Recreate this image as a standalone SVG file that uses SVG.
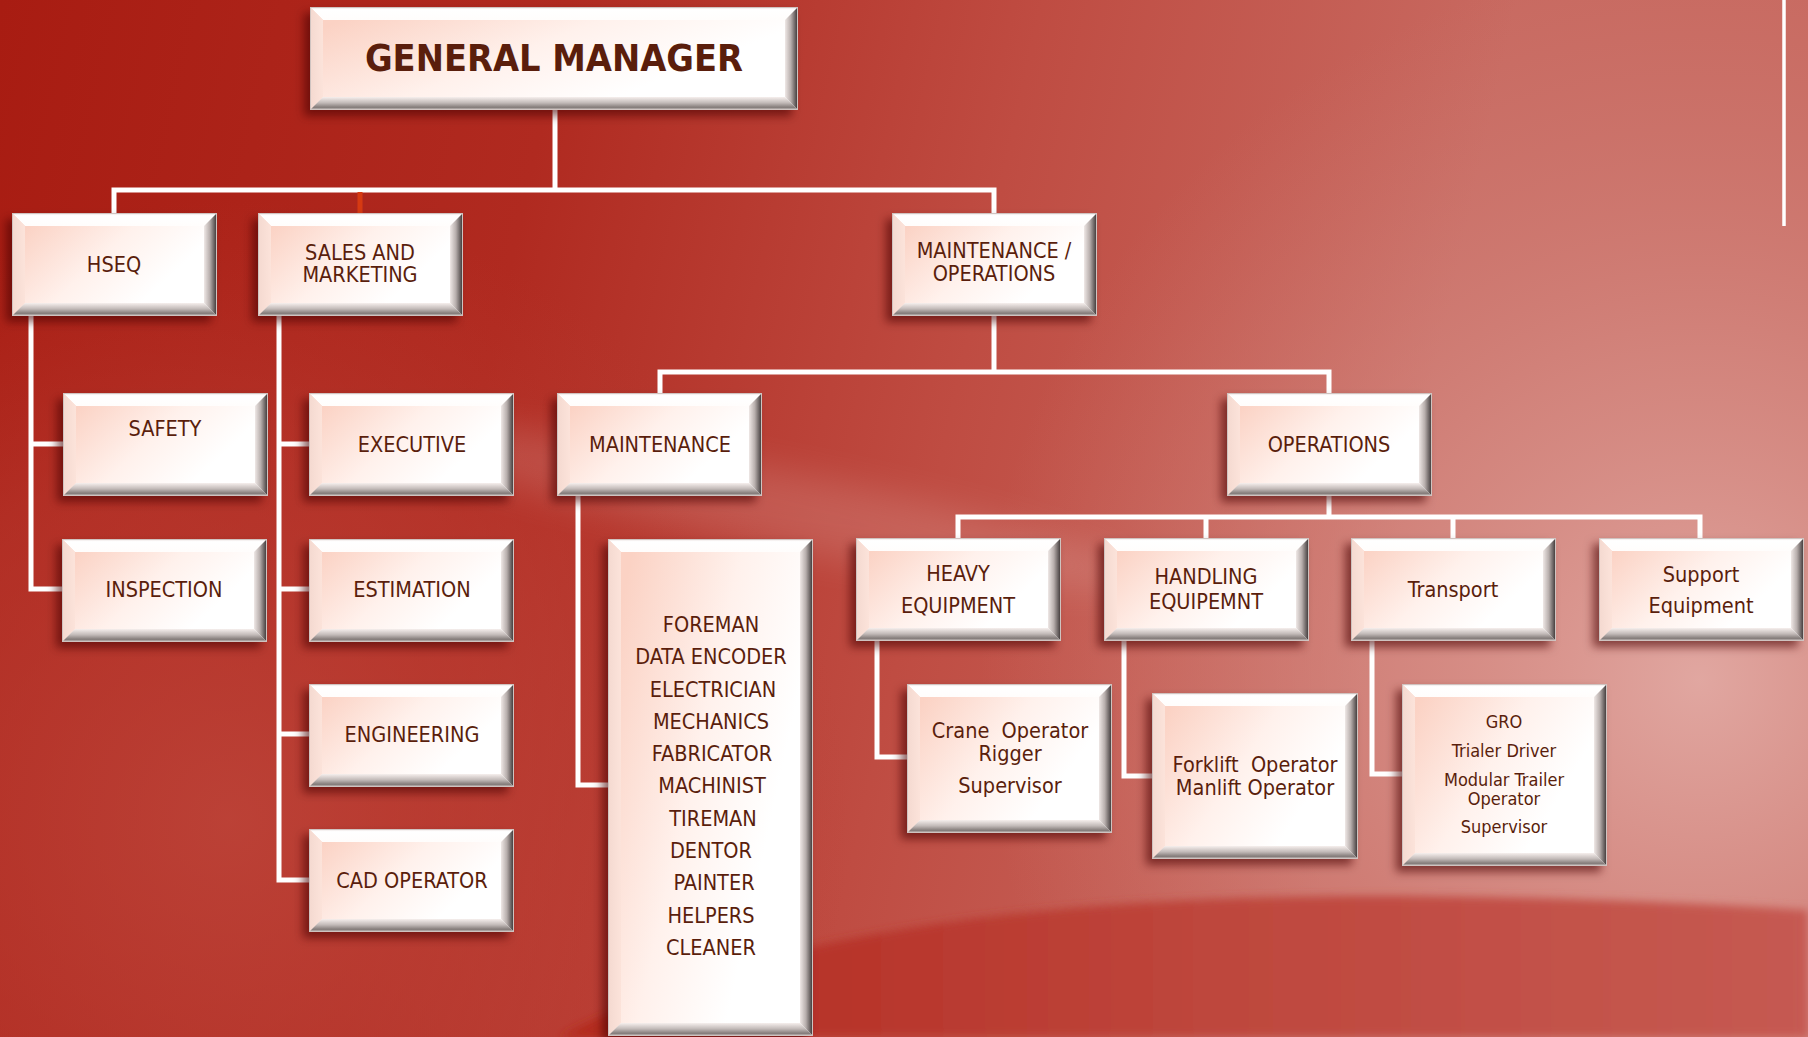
<svg xmlns="http://www.w3.org/2000/svg" xmlns:xlink="http://www.w3.org/1999/xlink" width="1808" height="1037" viewBox="0 0 1808 1037">
<defs>
<style>
.lbl{font-family:'DejaVu Sans Condensed','DejaVu Sans',sans-serif;font-stretch:condensed;font-size:21.5px;fill:#5A1E0C;text-anchor:middle}
.sm{font-size:18px}
.pre{white-space:pre}
.con{fill:none;stroke:#FFFFFF;stroke-width:5;stroke-linejoin:miter;stroke-linecap:butt}
.face{fill:url(#gFace)}
.bt{fill:url(#gTop)}
.bl{fill:url(#gLeft)}
.br{fill:url(#gRight)}
.bb{fill:url(#gBot)}
.edge{fill:none;stroke:#CFC3C0;stroke-width:1}
</style>
<linearGradient id="bgBase" gradientUnits="userSpaceOnUse" x1="0" y1="0" x2="1808" y2="400">
<stop offset="0" stop-color="#A81C12"/>
<stop offset="0.3" stop-color="#B02A20"/>
<stop offset="0.55" stop-color="#BF4C42"/>
<stop offset="0.8" stop-color="#C86A61"/>
<stop offset="1" stop-color="#C86A61"/>
</linearGradient>
<radialGradient id="pink" gradientUnits="userSpaceOnUse" cx="1700" cy="680" r="720">
<stop offset="0" stop-color="#E2AAA4" stop-opacity="0.95"/>
<stop offset="0.45" stop-color="#D9958E" stop-opacity="0.6"/>
<stop offset="1" stop-color="#D08078" stop-opacity="0"/>
</radialGradient>
<radialGradient id="lowLeft" gradientUnits="userSpaceOnUse" cx="230" cy="820" r="620">
<stop offset="0" stop-color="#C04A3F" stop-opacity="0.75"/>
<stop offset="0.6" stop-color="#BC4137" stop-opacity="0.45"/>
<stop offset="1" stop-color="#B83A30" stop-opacity="0"/>
</radialGradient>
<linearGradient id="lowDark" gradientUnits="userSpaceOnUse" x1="600" y1="0" x2="1808" y2="0">
<stop offset="0" stop-color="#B3291F"/>
<stop offset="0.5" stop-color="#BE463C"/>
<stop offset="1" stop-color="#C65A52"/>
</linearGradient>
<filter id="blur" x="-30%" y="-100%" width="160%" height="300%"><feGaussianBlur stdDeviation="18"/></filter>
<filter id="soft" x="-10%" y="-10%" width="120%" height="120%"><feGaussianBlur stdDeviation="4"/></filter>
<filter id="sh" x="-15%" y="-20%" width="130%" height="145%">
<feDropShadow dx="-6" dy="6" stdDeviation="5" flood-color="#4A0602" flood-opacity="0.6"/>
</filter>
<linearGradient id="gFace" x1="0" y1="0.25" x2="0.75" y2="0.65">
<stop offset="0" stop-color="#FBD2C4"/>
<stop offset="0.55" stop-color="#FFF1EC"/>
<stop offset="1" stop-color="#FFFFFF"/>
</linearGradient>
<linearGradient id="gTop" x1="0" y1="0" x2="0" y2="1">
<stop offset="0" stop-color="#E9E1DF"/>
<stop offset="0.2" stop-color="#FFFFFF"/>
<stop offset="1" stop-color="#FFFDFC"/>
</linearGradient>
<linearGradient id="gLeft" x1="0" y1="0" x2="1" y2="0">
<stop offset="0" stop-color="#F4D9D0"/>
<stop offset="1" stop-color="#FCE3DA"/>
</linearGradient>
<linearGradient id="gRight" x1="0" y1="0" x2="1" y2="0">
<stop offset="0" stop-color="#EFE8E6"/>
<stop offset="0.45" stop-color="#B7AEAC"/>
<stop offset="1" stop-color="#363030"/>
</linearGradient>
<linearGradient id="gBot" x1="0" y1="0" x2="0" y2="1">
<stop offset="0" stop-color="#F6EFED"/>
<stop offset="0.45" stop-color="#C2BAB8"/>
<stop offset="0.8" stop-color="#837B79"/>
<stop offset="1" stop-color="#D9D1CF"/>
</linearGradient>
<g id="box">
<rect class="face" x="0" y="0" width="205" height="103"/>
<polygon class="bt" points="0,0 205,0 192,13 13,13"/>
<polygon class="bl" points="0,0 13,13 13,90 0,103"/>
<polygon class="br" points="205,0 205,103 192,90 192,13"/>
<polygon class="bb" points="0,103 205,103 192,90 13,90"/>
<rect class="edge" x="0.5" y="0.5" width="204" height="102"/>
</g>
</defs>

<g id="background">
<rect x="0" y="0" width="1808" height="1037" fill="url(#bgBase)"/>
<rect x="0" y="0" width="1808" height="1037" fill="url(#pink)"/>
<rect x="0" y="200" width="900" height="837" fill="url(#lowLeft)"/>
<ellipse cx="760" cy="505" rx="380" ry="38" transform="rotate(11 760 505)" fill="#FFFFFF" opacity="0.13" filter="url(#blur)"/>
<path d="M560 1037 C 760 930, 1050 895, 1400 896 C 1600 898, 1720 905, 1808 910 L1808 1037 Z" fill="url(#lowDark)" filter="url(#soft)"/>
<line x1="1784" y1="0" x2="1784" y2="226" stroke="#FFFFFF" stroke-width="3.5"/>
</g>

<g id="connectors">
<path class="con" d="M555 110 V190"/>
<path class="con" d="M114 213 V190 H994 V213"/>
<path d="M360 192 V213" fill="none" stroke="#D63A12" stroke-width="5"/>
<path class="con" d="M31 315 V589 H63 M31 444 H63"/>
<path class="con" d="M279 315 V880 H309 M279 444 H309 M279 589 H309 M279 734 H309"/>
<path class="con" d="M994 315 V372 M660 393 V372 H1329 V393"/>
<path class="con" d="M578 496 V785 H608"/>
<path class="con" d="M1329 496 V517 M958 538 V517 H1700 V538 M1206 517 V538 M1453 517 V538"/>
<path class="con" d="M877 641 V757 H907"/>
<path class="con" d="M1124 641 V776 H1152"/>
<path class="con" d="M1372 641 V774 H1402"/>
</g>

<g id="general-manager">
<g filter="url(#sh)">
<rect class="face" x="310" y="7" width="488" height="103"/>
<polygon class="bt" points="310,7 798,7 785,20 323,20"/>
<polygon class="bl" points="310,7 323,20 323,97 310,110"/>
<polygon class="br" points="798,7 798,110 785,97 785,20"/>
<polygon class="bb" points="310,110 798,110 785,97 323,97"/>
<rect class="edge" x="310.5" y="7.5" width="487" height="102"/>
</g>
<text class="lbl" x="554" y="71" style="font-size:37.5px;font-weight:bold">GENERAL MANAGER</text>
</g>

<g id="hseq"><use xlink:href="#box" href="#box" x="12" y="213" filter="url(#sh)"/><text class="lbl" x="114" y="272">HSEQ</text></g>
<g id="sales-marketing"><use xlink:href="#box" href="#box" x="258" y="213" filter="url(#sh)"/><text class="lbl" x="360" y="260">SALES AND</text><text class="lbl" x="360" y="282">MARKETING</text></g>
<g id="maintenance-operations"><use xlink:href="#box" href="#box" x="892" y="213" filter="url(#sh)"/><text class="lbl" x="994" y="258">MAINTENANCE /</text><text class="lbl" x="994" y="281">OPERATIONS</text></g>

<g id="safety"><use xlink:href="#box" href="#box" x="63" y="393" filter="url(#sh)"/><text class="lbl" x="165" y="436">SAFETY</text></g>
<g id="inspection"><use xlink:href="#box" href="#box" x="62" y="539" filter="url(#sh)"/><text class="lbl" x="164" y="597">INSPECTION</text></g>

<g id="executive"><use xlink:href="#box" href="#box" x="309" y="393" filter="url(#sh)"/><text class="lbl" x="412" y="452">EXECUTIVE</text></g>
<g id="estimation"><use xlink:href="#box" href="#box" x="309" y="539" filter="url(#sh)"/><text class="lbl" x="412" y="597">ESTIMATION</text></g>
<g id="engineering"><use xlink:href="#box" href="#box" x="309" y="684" filter="url(#sh)"/><text class="lbl" x="412" y="742">ENGINEERING</text></g>
<g id="cad-operator"><use xlink:href="#box" href="#box" x="309" y="829" filter="url(#sh)"/><text class="lbl" x="412" y="888">CAD OPERATOR</text></g>

<g id="maintenance"><use xlink:href="#box" href="#box" x="557" y="393" filter="url(#sh)"/><text class="lbl" x="660" y="452">MAINTENANCE</text></g>
<g id="operations"><use xlink:href="#box" href="#box" x="1227" y="393" filter="url(#sh)"/><text class="lbl" x="1329" y="452">OPERATIONS</text></g>

<g id="maintenance-staff">
<g filter="url(#sh)">
<rect class="face" x="608" y="539" width="205" height="497"/>
<polygon class="bt" points="608,539 813,539 800,552 621,552"/>
<polygon class="bl" points="608,539 621,552 621,1023 608,1036"/>
<polygon class="br" points="813,539 813,1036 800,1023 800,552"/>
<polygon class="bb" points="608,1036 813,1036 800,1023 621,1023"/>
<rect class="edge" x="608.5" y="539.5" width="204" height="496"/>
</g>
<text class="lbl" x="711" y="632">FOREMAN</text>
<text class="lbl" x="711" y="664">DATA ENCODER</text>
<text class="lbl" x="713" y="697">ELECTRICIAN</text>
<text class="lbl" x="711" y="729">MECHANICS</text>
<text class="lbl" x="712" y="761">FABRICATOR</text>
<text class="lbl" x="712" y="793">MACHINIST</text>
<text class="lbl" x="713" y="826">TIREMAN</text>
<text class="lbl" x="711" y="858">DENTOR</text>
<text class="lbl" x="714" y="890">PAINTER</text>
<text class="lbl" x="711" y="923">HELPERS</text>
<text class="lbl" x="711" y="955">CLEANER</text>
</g>

<g id="heavy-equipment"><use xlink:href="#box" href="#box" x="856" y="538" filter="url(#sh)"/><text class="lbl" x="958" y="581">HEAVY</text><text class="lbl" x="958" y="613">EQUIPMENT</text></g>
<g id="handling-equipment"><use xlink:href="#box" href="#box" x="1104" y="538" filter="url(#sh)"/><text class="lbl" x="1206" y="584">HANDLING</text><text class="lbl" x="1206" y="609">EQUIPEMNT</text></g>
<g id="transport"><use xlink:href="#box" href="#box" x="1351" y="538" filter="url(#sh)"/><text class="lbl" x="1453" y="597">Transport</text></g>
<g id="support-equipment"><use xlink:href="#box" href="#box" x="1599" y="538" filter="url(#sh)"/><text class="lbl" x="1701" y="582">Support</text><text class="lbl" x="1701" y="613">Equipment</text></g>

<g id="crane-group">
<g filter="url(#sh)">
<rect class="face" x="907" y="684" width="205" height="149"/>
<polygon class="bt" points="907,684 1112,684 1099,697 920,697"/>
<polygon class="bl" points="907,684 920,697 920,820 907,833"/>
<polygon class="br" points="1112,684 1112,833 1099,820 1099,697"/>
<polygon class="bb" points="907,833 1112,833 1099,820 920,820"/>
<rect class="edge" x="907.5" y="684.5" width="204" height="148"/>
</g>
<text class="lbl pre" x="1010" y="738">Crane  Operator</text>
<text class="lbl" x="1010" y="761">Rigger</text>
<text class="lbl" x="1010" y="793">Supervisor</text>
</g>

<g id="forklift-group">
<g filter="url(#sh)">
<rect class="face" x="1152" y="693" width="206" height="166"/>
<polygon class="bt" points="1152,693 1358,693 1345,706 1165,706"/>
<polygon class="bl" points="1152,693 1165,706 1165,846 1152,859"/>
<polygon class="br" points="1358,693 1358,859 1345,846 1345,706"/>
<polygon class="bb" points="1152,859 1358,859 1345,846 1165,846"/>
<rect class="edge" x="1152.5" y="693.5" width="205" height="165"/>
</g>
<text class="lbl pre" x="1255" y="772">Forklift  Operator</text>
<text class="lbl" x="1255" y="795">Manlift Operator</text>
</g>

<g id="transport-staff">
<g filter="url(#sh)">
<rect class="face" x="1402" y="684" width="205" height="182"/>
<polygon class="bt" points="1402,684 1607,684 1594,697 1415,697"/>
<polygon class="bl" points="1402,684 1415,697 1415,853 1402,866"/>
<polygon class="br" points="1607,684 1607,866 1594,853 1594,697"/>
<polygon class="bb" points="1402,866 1607,866 1594,853 1415,853"/>
<rect class="edge" x="1402.5" y="684.5" width="204" height="181"/>
</g>
<text class="lbl sm" x="1504" y="728">GRO</text>
<text class="lbl sm" x="1504" y="757">Trialer Driver</text>
<text class="lbl sm" x="1504" y="786">Modular Trailer</text>
<text class="lbl sm" x="1504" y="805">Operator</text>
<text class="lbl sm" x="1504" y="833">Supervisor</text>
</g>
</svg>
